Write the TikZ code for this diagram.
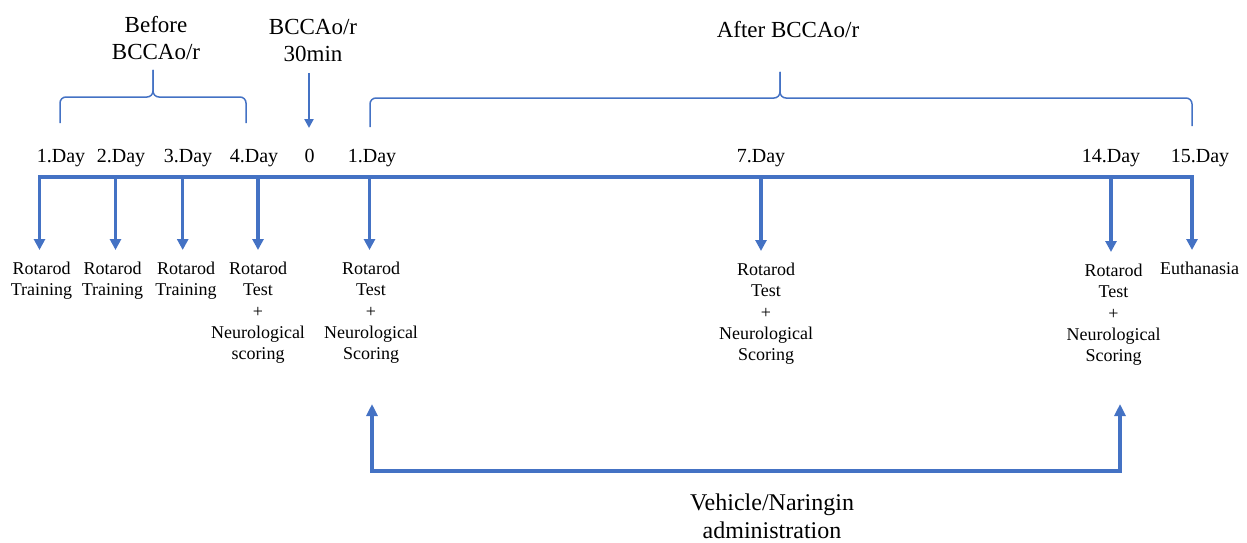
\documentclass[tikz,border=0pt]{standalone}
\usepackage{fontspec}
\setmainfont{Liberation Serif}
\usetikzlibrary{arrows.meta}
\definecolor{tlblue}{HTML}{4472C4}

\begin{document}
\begin{tikzpicture}[x=1pt, y=-1pt,
    phase/.style={font=\fontsize{23}{27}\selectfont, align=center},
    day/.style={font=\fontsize{20}{24}\selectfont, anchor=base},
    task/.style={font=\fontsize{18}{21.3}\selectfont, align=center, anchor=north, inner sep=0pt, outer ysep=12pt},
    tick/.style={draw=tlblue, line width=3.5pt, -{Triangle[width=11pt,length=11pt]}},
    brace/.style={draw=tlblue, line width=1.5pt, rounded corners=6pt}]
    \useasboundingbox (0,0) rectangle (1247,543);

    % phases above the timeline
    \node[phase] (before) at (156,38.5) {Before\\BCCAo/r};
    \node[phase] (ischemia) at (313,40) {BCCAo/r\\30min};
    \node[phase] (after) at (788,30) {After BCCAo/r};

    \draw[brace] (60,123) |- (153,97) -- (153,70);
    \draw[brace] (246,123) |- (153,97) -- (153,70);
    \draw[brace] (370,127) |- (780,98) -- (780,72);
    \draw[brace] (1192,126) |- (780,98) -- (780,72);

    \coordinate (occl) at (309,128);
    \draw[draw=tlblue, line width=2.5pt, -{Triangle[width=9pt,length=9pt]}, shorten <=8pt] (occl |- ischemia.south) -- (occl);

    % days
    \node[day] (d1) at (61,162) {1.Day};
    \node[day] (d2) at (121,162) {2.Day};
    \node[day] (d3) at (188,162) {3.Day};
    \node[day] (d4) at (254,162) {4.Day};
    \node[day] (d0) at (309.5,162) {0};
    \node[day] (a1) at (372,162) {1.Day};
    \node[day] (a7) at (761,162) {7.Day};
    \node[day] (a14) at (1111,162) {14.Day};
    \node[day] (a15) at (1200,162) {15.Day};

    % timeline
    \coordinate (t1) at (39.5,176.5);
    \coordinate (t2) at (115.5,176.5);
    \coordinate (t3) at (182.7,176.5);
    \coordinate (t4) at (258,176.5);
    \coordinate (t5) at (369.5,176.5);
    \coordinate (t6) at (761,176.5);
    \coordinate (t7) at (1111,176.5);
    \coordinate (t8) at (1192,176.5);
    \draw[tlblue, line width=4pt, line cap=rect] (t1) -- (t8);

    % tasks
    \node[task] (train1) at (41.5,250) {Rotarod\\Training};
    \node[task] (train2) at (112.5,250) {Rotarod\\Training};
    \node[task] (train3) at (186,250) {Rotarod\\Training};
    \node[task] (test0) at (258,250) {Rotarod\\Test\\+\\Neurological\\scoring};
    \node[task] (test1) at (371,250) {Rotarod\\Test\\+\\Neurological\\Scoring};
    \node[task] (test7) at (766,251) {Rotarod\\Test\\+\\Neurological\\Scoring};
    \node[task] (test14) at (1113.5,252) {Rotarod\\Test\\+\\Neurological\\Scoring};
    \node[task] (euth) at (1199.5,250) {Euthanasia};

    \draw[tick] (t1) -- (t1 |- train1.north);
    \draw[tick] (t2) -- (t2 |- train2.north);
    \draw[tick] (t3) -- (t3 |- train3.north);
    \draw[tick] (t4) -- (t4 |- test0.north);
    \draw[tick] (t5) -- (t5 |- test1.north);
    \draw[tick] (t6) -- (t6 |- test7.north);
    \draw[tick] (t7) -- (t7 |- test14.north);
    \draw[tick] (t8) -- (t8 |- euth.north);

    % treatment period
    \coordinate (adm1) at (372,404);
    \coordinate (adm2) at (1120,404);
    \coordinate (admbase) at (746,471);
    \draw[tlblue, line width=3.5pt, {Triangle[width=11pt,length=12pt]}-{Triangle[width=11pt,length=12pt]}] (adm1) |- (admbase) -| (adm2);
    \node[font=\fontsize{24}{28}\selectfont, align=center] (admin) at (772,516.5) {Vehicle/Naringin\\administration};
\end{tikzpicture}
\end{document}
